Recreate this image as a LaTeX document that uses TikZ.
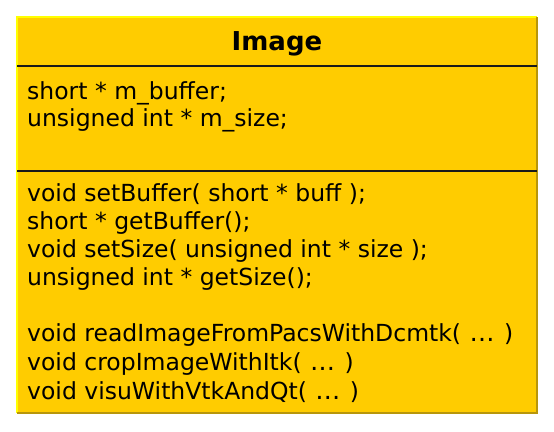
\documentclass[tikz,border=0pt]{standalone}
\usepackage{fontspec}
\setmainfont{DejaVu Sans}
\definecolor{boxfill}{HTML}{FFCC00}
\definecolor{lightedge}{HTML}{FFFF00}
\definecolor{darkedge}{HTML}{B8960B}
\newcommand{\argdots}{\hspace{1pt}{\fontsize{25}{28}\selectfont …}\hspace{2pt}}
\begin{document}
\begin{tikzpicture}[x=1pt,y=-1pt,
  member/.style={anchor=base west,inner sep=0pt,font=\fontsize{23.5}{28}\selectfont},
  titletext/.style={anchor=base,inner sep=0pt,font=\fontsize{26}{30}\selectfont\bfseries}]
\useasboundingbox (0,0) rectangle (554,431);
\coordinate (tl) at (17,17);
\coordinate (br) at (537,413);
\fill[boxfill] (tl) rectangle (br);
\draw[lightedge,line width=1.5pt] (17,413) -- (tl) -- (537,17);
\draw[darkedge,line width=1.5pt] (537,17) -- (br) -- (17,413);
\draw[black!90,line width=1.3pt] (17,66) -- (537,66);
\draw[black!90,line width=1.3pt] (17,171) -- (537,171);
\node[titletext] (title) at (277,50) {Image};
\node[member] (a1) at (27,99) {short * m\_buffer;};
\node[member] (a2) at (27,126.5) {unsigned int * m\_size;};
\node[member] (m1) at (27,201.7) {void setBuffer( short * buff );};
\node[member] (m2) at (27,229.5) {short * getBuffer();};
\node[member] (m3) at (27,257.3) {void setSize( unsigned int * size );};
\node[member] (m4) at (27,285) {unsigned int * getSize();};
\node[member] (m5) at (27,341.7) {void readImageFromPacsWithDcmtk( \argdots{} )};
\node[member] (m6) at (27,370) {void cropImageWithItk( \argdots{} )};
\node[member] (m7) at (27,399) {void visuWithVtkAndQt( \argdots{} )};
\end{tikzpicture}
\end{document}
